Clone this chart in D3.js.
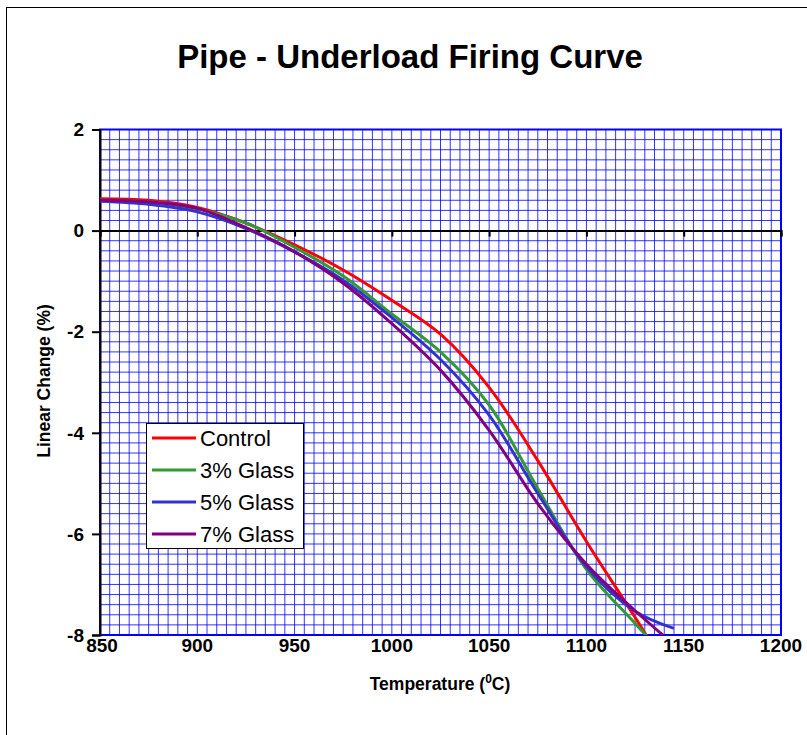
<!DOCTYPE html>
<html>
<head>
<meta charset="utf-8">
<title>Pipe - Underload Firing Curve</title>
<style>
body { margin: 0; background: #fff; }
text { font-family: "Liberation Sans", Arial, sans-serif; fill: #000; }
.tick-lbl { font-size: 19px; font-weight: bold; }
.ttl { font-size: 33px; font-weight: bold; }
.axt { font-size: 17.5px; font-weight: bold; }
.leg text { font-size: 22px; }
.grid line { stroke: #0000ff; stroke-width: 1; stroke-opacity: 0.8; }
</style>
</head>
<body>
<script src="https://cdn.jsdelivr.net/npm/d3@7"></script>
<div id="chart"></div>
<script>
var temps = [850, 875, 900, 925, 950, 975, 1000, 1025, 1050, 1075, 1100, 1125, 1150];
var control = [0.63, 0.60, 0.46, 0.15, -0.28, -0.78, -1.38, -2.05, -3.1, -4.55, -6.15, -7.65, -9.2];
var glass3 = [0.60, 0.57, 0.43, 0.15, -0.33, -0.9, -1.65, -2.4, -3.45, -5.1, -6.7, -7.77, -8.8];
var temps5 = [850, 875, 900, 925, 950, 975, 1000, 1025, 1050, 1075, 1100, 1125, 1145];
var glass5 = [0.58, 0.52, 0.37, 0.04, -0.42, -0.98, -1.72, -2.55, -3.65, -5.2, -6.65, -7.53, -7.87];
var glass7 = [0.60, 0.57, 0.44, 0.06, -0.42, -1.04, -1.84, -2.76, -3.95, -5.4, -6.6, -7.52, -8.35];
var seriesNames = ["Control", "3% Glass", "5% Glass", "7% Glass"];
var seriesColors = ["#ff0000", "#339933", "#3333cc", "#800080"];
var xTicks = [850, 900, 950, 1000, 1050, 1100, 1150, 1200];
var yTicks = [-8, -6, -4, -2, 0, 2];

(function() {
    var dimensions = { width: 807, height: 735 };
    var plot = { left: 100, top: 129.5, right: 781, bottom: 635 };

    var series = [
        { name: seriesNames[0], color: seriesColors[0], x: temps, y: control },
        { name: seriesNames[1], color: seriesColors[1], x: temps, y: glass3 },
        { name: seriesNames[2], color: seriesColors[2], x: temps5, y: glass5 },
        { name: seriesNames[3], color: seriesColors[3], x: temps, y: glass7 }
    ];

    var xscale = d3.scaleLinear().domain([850, 1200]).range([plot.left, plot.right]);
    var yscale = d3.scaleLinear().domain([-8, 2]).range([plot.bottom, plot.top]);

    var svg = d3.select("#chart").append("svg")
        .attr("width", dimensions.width)
        .attr("height", dimensions.height);

    // chart frame
    svg.append("rect")
        .attr("x", 6.5).attr("y", 7.5)
        .attr("width", 830).attr("height", 760)
        .attr("fill", "#fff").attr("stroke", "#000").attr("stroke-width", 1);

    svg.append("text").attr("class", "ttl")
        .attr("x", 410).attr("y", 68)
        .attr("text-anchor", "middle")
        .text("Pipe - Underload Firing Curve");

    // gridlines
    var grid = svg.append("g").attr("class", "grid");
    grid.selectAll("line.v")
        .data(d3.range(855, 1200, 5))
        .enter().append("line")
        .attr("x1", function(d) { return xscale(d); })
        .attr("x2", function(d) { return xscale(d); })
        .attr("y1", plot.top).attr("y2", plot.bottom);
    grid.selectAll("line.h")
        .data(d3.range(-7.8, 2, 0.2))
        .enter().append("line")
        .attr("y1", function(d) { return yscale(d); })
        .attr("y2", function(d) { return yscale(d); })
        .attr("x1", plot.left).attr("x2", plot.right);

    svg.append("rect")
        .attr("x", plot.left).attr("y", plot.top)
        .attr("width", plot.right - plot.left).attr("height", plot.bottom - plot.top)
        .attr("fill", "none").attr("stroke", "#0000ff").attr("stroke-width", 2);

    // y axis
    var yaxis = d3.axisLeft(yscale).tickValues(yTicks).tickSize(8).tickPadding(8)
        .tickFormat(function(d) { return String(d); });
    var gy = svg.append("g").attr("transform", "translate(" + plot.left + ",0)").call(yaxis);
    gy.attr("font-size", null).attr("font-family", null);
    gy.select(".domain").attr("stroke", "#000").attr("stroke-width", 2);
    gy.selectAll(".tick line").attr("stroke", "#000").attr("stroke-width", 2);
    gy.selectAll(".tick text").attr("class", "tick-lbl").attr("dy", "0.33em");

    // x axis along zero
    var xaxis = d3.axisBottom(xscale).tickValues(xTicks).tickSize(6).tickFormat("");
    var gx = svg.append("g").attr("transform", "translate(0," + yscale(0) + ")").call(xaxis);
    gx.select(".domain").attr("stroke", "#000").attr("stroke-width", 2);
    gx.selectAll(".tick line").attr("stroke", "#000").attr("stroke-width", 2);

    svg.append("g").selectAll("text")
        .data(xTicks)
        .enter().append("text")
        .attr("class", "tick-lbl")
        .attr("x", function(d) { return xscale(d) + (d === 850 ? 2 : 0); })
        .attr("y", 652)
        .attr("text-anchor", "middle")
        .text(function(d) { return d; });

    // axis titles
    var xt = svg.append("text").attr("class", "axt")
        .attr("x", 440).attr("y", 690).attr("text-anchor", "middle");
    xt.append("tspan").text("Temperature (");
    xt.append("tspan").attr("dy", -7).attr("font-size", "12px").text("0");
    xt.append("tspan").attr("dy", 7).text("C)");

    svg.append("text").attr("class", "axt")
        .attr("transform", "translate(50,381) rotate(-90)")
        .attr("text-anchor", "middle")
        .text("Linear Change (%)");

    // series
    svg.append("clipPath").attr("id", "clip")
        .append("rect")
        .attr("x", plot.left).attr("y", plot.top)
        .attr("width", plot.right - plot.left).attr("height", plot.bottom - plot.top);

    var line = d3.line().curve(d3.curveCatmullRom.alpha(0.5));
    var gl = svg.append("g").attr("clip-path", "url(#clip)");
    series.forEach(function(s) {
        var pts = s.x.map(function(t, i) { return [xscale(t), yscale(s.y[i])]; });
        gl.append("path")
            .attr("d", line(pts))
            .attr("fill", "none")
            .attr("stroke", s.color)
            .attr("stroke-width", 3)
            .attr("stroke-linejoin", "round");
    });

    // legend
    var leg = svg.append("g").attr("class", "leg");
    leg.append("rect")
        .attr("x", 146.5).attr("y", 423.5).attr("width", 157).attr("height", 125)
        .attr("fill", "#fff").attr("stroke", "#000").attr("stroke-width", 1);
    series.forEach(function(s, i) {
        var y = 438 + i * 32;
        leg.append("line")
            .attr("x1", 152).attr("x2", 196).attr("y1", y).attr("y2", y)
            .attr("stroke", s.color).attr("stroke-width", 3);
        leg.append("text")
            .attr("x", 200).attr("y", y + 8)
            .text(s.name);
    });
})();
</script>
</body>
</html>
